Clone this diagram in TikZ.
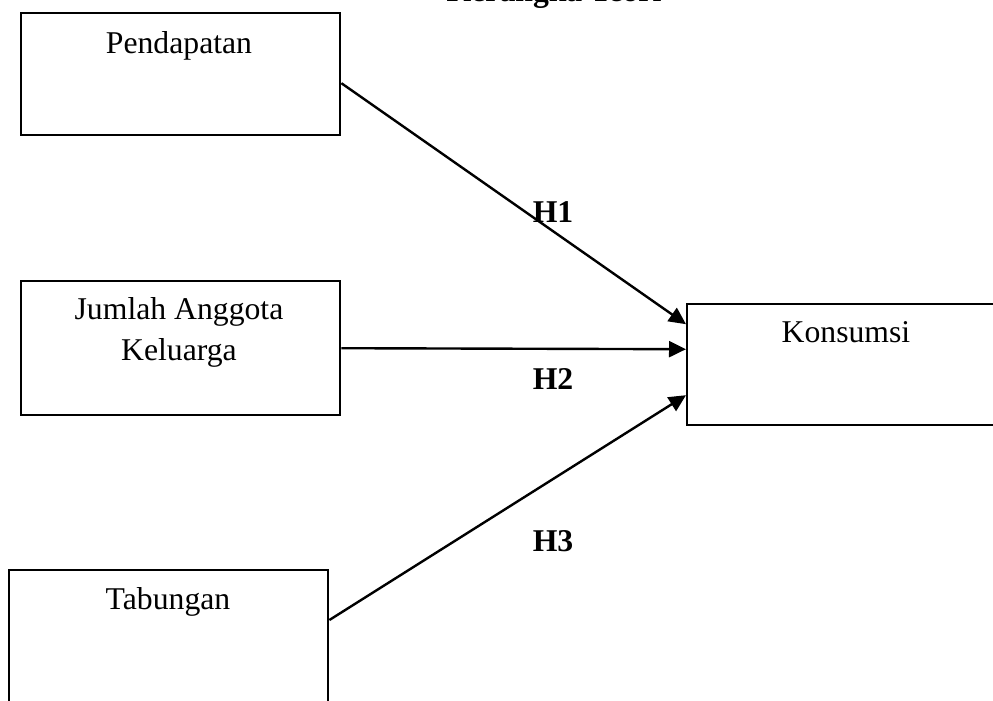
\documentclass[tikz,border=0pt]{standalone}
\usepackage{fontspec}
\setmainfont{Liberation Serif}
\usetikzlibrary{arrows.meta}
\begin{document}
\begin{tikzpicture}[x=1pt,y=-1pt,
  box/.style={draw, line width=2.4pt, rectangle, inner sep=0pt, anchor=north west},
  lbl/.style={font=\fontsize{31.7}{41}\selectfont, anchor=base, inner sep=0pt},
  hlbl/.style={font=\fontsize{31.7}{41}\selectfont\bfseries, anchor=base, inner sep=0pt},
  conn/.style={line width=2.4pt, -{Triangle[length=17pt,width=16pt]}}]
\useasboundingbox (0,0) rectangle (993,701);
\clip (0,0) rectangle (993,701);
\node[hlbl] (title) at (554,2) {Kerangka Teori};
\node[box, minimum width=319pt, minimum height=122pt] (P) at (20,12) {};
\node[box, minimum width=319pt, minimum height=134pt] (J) at (20,280) {};
\node[box, minimum width=319pt, minimum height=160pt] (T) at (8,569) {};
\node[box, minimum width=330pt, minimum height=121pt] (K) at (686,303) {};
\node[lbl] (Pt) at (179,53) {Pendapatan};
\node[lbl, align=center] (Jt) at (179,360) {Jumlah Anggota\\Keluarga};
\node[lbl] (Tt) at (168,609) {Tabungan};
\node[lbl] (Kt) at (846,342) {Konsumsi};
\draw[conn] ([yshift=-9pt]P.east) -- ([yshift=40.5pt]K.west);
\draw[conn] ([yshift=0pt]J.east) -- ([yshift=15.5pt]K.west);
\draw[conn] ([yshift=-51pt]T.north east) -- ([yshift=-30.5pt]K.west);
\node[hlbl] (H1) at (553,222) {H1};
\node[hlbl] (H2) at (553,389) {H2};
\node[hlbl] (H3) at (553,551) {H3};
\end{tikzpicture}
\end{document}
